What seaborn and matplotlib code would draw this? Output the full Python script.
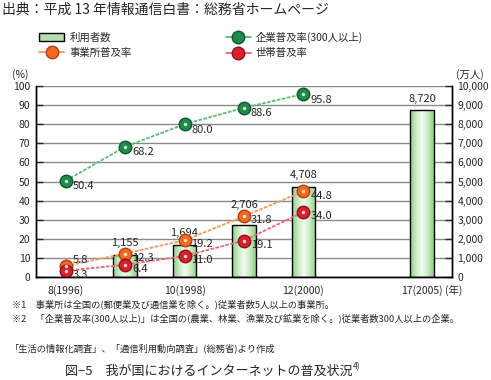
import matplotlib.pyplot as plt
import matplotlib.colors as mcolors
import numpy as np
import pandas as pd
import seaborn as sns
from matplotlib.patches import Patch
from matplotlib.lines import Line2D

# categories (one gap slot between 2000 and 2005)
categories = ["1996", "1997", "1998", "1999", "2000", "gap", "2005"]
tick_labels = ["8(1996)", "", "10(1998)", "", "12(2000)", "", "17(2005)"]

# users (10k persons), right axis
users = [np.nan, 1155, 1694, 2706, 4708, np.nan, 8720]

# penetration rates (%), left axis
line_years = ["1996", "1997", "1998", "1999", "2000"]
corp_rate = [50.4, 68.2, 80.0, 88.6, 95.8]      # 企業普及率(300人以上)
office_rate = [5.8, 12.3, 19.2, 31.8, 44.8]     # 事業所普及率
household_rate = [3.3, 6.4, 11.0, 19.1, 34.0]  # 世帯普及率

sns.set_style("white")
plt.rcParams['font.family'] = ['Noto Sans CJK JP', 'DejaVu Sans']

fig = plt.figure(figsize=(4.91, 3.80), dpi=100)
ax = fig.add_axes([36 / 491, 1 - 277 / 380, (452 - 36) / 491, (277 - 86) / 380])
ax2 = ax.twinx()

# bars
df_bar = pd.DataFrame({"cat": categories, "users": users})
sns.barplot(data=df_bar, x="cat", y="users", order=categories, ax=ax,
            color="#b5e0ad", edgecolor="black", linewidth=1, width=0.4)

# gradient fill on the bars
grad_cmap = mcolors.LinearSegmentedColormap.from_list(
    "g", ["#8fcf88", "#c8ebc2", "#f4fbf2", "#c8ebc2", "#8fcf88"])
grad = np.linspace(0, 1, 64).reshape(1, -1)
for p in ax.patches:
    bb = p.get_bbox()
    if not np.isfinite(bb.y1) or bb.height == 0:
        continue
    im = ax.imshow(grad, cmap=grad_cmap, aspect="auto",
                   extent=(bb.x0, bb.x1, bb.y0, bb.y1), zorder=p.get_zorder() - 0.01)
    im.set_clip_path(p)
    p.set_facecolor("none")
    # value label above the bar (1999 lifted clear of the line marker)
    lift = 11 if bb.y1 == 2706 else 5
    ax.annotate(f"{bb.y1:,.0f}", ((bb.x0 + bb.x1) / 2, bb.y1), xytext=(0, lift),
                textcoords="offset points", ha="center", va="bottom", fontsize=8)
ax.set_ylim(0, 10000)
ax.set_xlim(-0.5, len(categories) - 0.5)

ax.set_yticks(np.arange(0, 10001, 1000))
ax.set_yticklabels([f"{v:,}" for v in range(0, 10001, 1000)])
ax.yaxis.tick_right()
ax.grid(axis="y", color="#8a8a8a", linewidth=1)
ax.set_axisbelow(True)
ax.set_xticks(range(len(categories)))
ax.set_xticklabels(tick_labels)
ax.set_xticks(np.arange(0.5, len(categories) - 1, 1), minor=True)
ax.tick_params(axis="x", which="major", length=0, labelsize=7.5, pad=6)
ax.tick_params(axis="x", which="minor", direction="in", length=5, width=1)
ax.tick_params(axis="y", direction="in", length=5, width=1, labelsize=7.5, pad=4,
               right=True, left=False, labelright=True, labelleft=False)
ax.set_xlabel("")
ax.set_ylabel("")

# lines on twin axis (left, %)
ax2.set_ylim(0, 100)
ax2.set_yticks(range(0, 101, 10))
ax2.yaxis.tick_left()
ax2.tick_params(axis="y", direction="in", length=5, width=1, labelsize=7.5, pad=4,
                left=True, right=False, labelleft=True, labelright=False)

pos = [categories.index(y) for y in line_years]
series = [
    (corp_rate, "#5fb878", "#1f8a4a", "#0b5a2c", (5, -4)),
    (office_rate, "#f5995a", "#f06a20", "#b04010", (5, -3)),
    (household_rate, "#ec6670", "#d8202e", "#901018", (5, -3)),
]
for vals, lc, fc, ec, off in series:
    sns.lineplot(x=pos, y=vals, ax=ax2, color=lc, linewidth=1.3,
                 linestyle=(0, (2, 0.8)), marker="o", markersize=9,
                 markerfacecolor=fc, markeredgecolor=ec, markeredgewidth=1)
    ax2.scatter(pos, vals, s=6, color="white", alpha=0.8, zorder=5, linewidths=0)
    for i, (x, v) in enumerate(zip(pos, vals)):
        dx, dy = off
        if vals is office_rate and i == 0:
            dy = 4
        ax2.annotate(f"{v:.1f}", (x, v), xytext=(dx, dy), textcoords="offset points",
                     fontsize=8, ha="left", va="center")
ax2.set_xlabel("")
ax2.set_ylabel("")

for a in (ax, ax2):
    a.spines["top"].set_visible(False)
    for s in ("left", "right", "bottom"):
        a.spines[s].set_color("black")
        a.spines[s].set_linewidth(1)

# axis unit labels
fig.text(20 / 491, 1 - 75 / 380, "(%)", fontsize=7.5, ha="center", va="center")
fig.text(470 / 491, 1 - 75 / 380, "(万人)", fontsize=7.5, ha="center", va="center")
fig.text(454 / 491, 1 - 290 / 380, "(年)", fontsize=7.5, ha="center", va="center")

# header
fig.text(2 / 491, 1 - 10 / 380, "出典：平成 13 年情報通信白書：総務省ホームページ",
         fontsize=10, ha="left", va="center")

# legend
handles = [
    Patch(facecolor="#b5e0ad", edgecolor="black", linewidth=1),
    Line2D([], [], color="#f5995a", linewidth=1.3, marker="o", markersize=9,
           markerfacecolor="#f06a20", markeredgecolor="#b04010"),
    Line2D([], [], color="#5fb878", linewidth=1.3, marker="o", markersize=9,
           markerfacecolor="#1f8a4a", markeredgecolor="#0b5a2c"),
    Line2D([], [], color="#ec6670", linewidth=1.3, marker="o", markersize=9,
           markerfacecolor="#d8202e", markeredgecolor="#901018"),
]
labels = ["利用者数", "事業所普及率", "企業普及率(300人以上)", "世帯普及率"]
fig.legend(handles, labels, ncol=2, loc="upper left",
           bbox_to_anchor=(30 / 491, 1 - 22 / 380), frameon=False, fontsize=7.5,
           handlelength=2.4, handleheight=0.8, columnspacing=9.0,
           labelspacing=0.55, handletextpad=0.5)

# footnotes
fig.text(12 / 491, 1 - 304 / 380, "※1　事業所は全国の(郵便業及び通信業を除く。)従業者数5人以上の事業所。",
         fontsize=6.7, ha="left", va="center")
fig.text(12 / 491, 1 - 318 / 380,
         "※2　「企業普及率(300人以上)」は全国の(農業、林業、漁業及び鉱業を除く。)従業者数300人以上の企業。",
         fontsize=6.7, ha="left", va="center")
fig.text(10 / 491, 1 - 348 / 380, "「生活の情報化調査」、「通信利用動向調査」(総務省)より作成",
         fontsize=6.7, ha="left", va="center")
fig.text(65 / 491, 1 - 371 / 380, "図−5　我が国におけるインターネットの普及状況",
         fontsize=9.4, ha="left", va="center")
fig.text(353 / 491, 1 - 367 / 380, "4)", fontsize=6, ha="left", va="center")

fig.savefig("out.png", dpi=100)
